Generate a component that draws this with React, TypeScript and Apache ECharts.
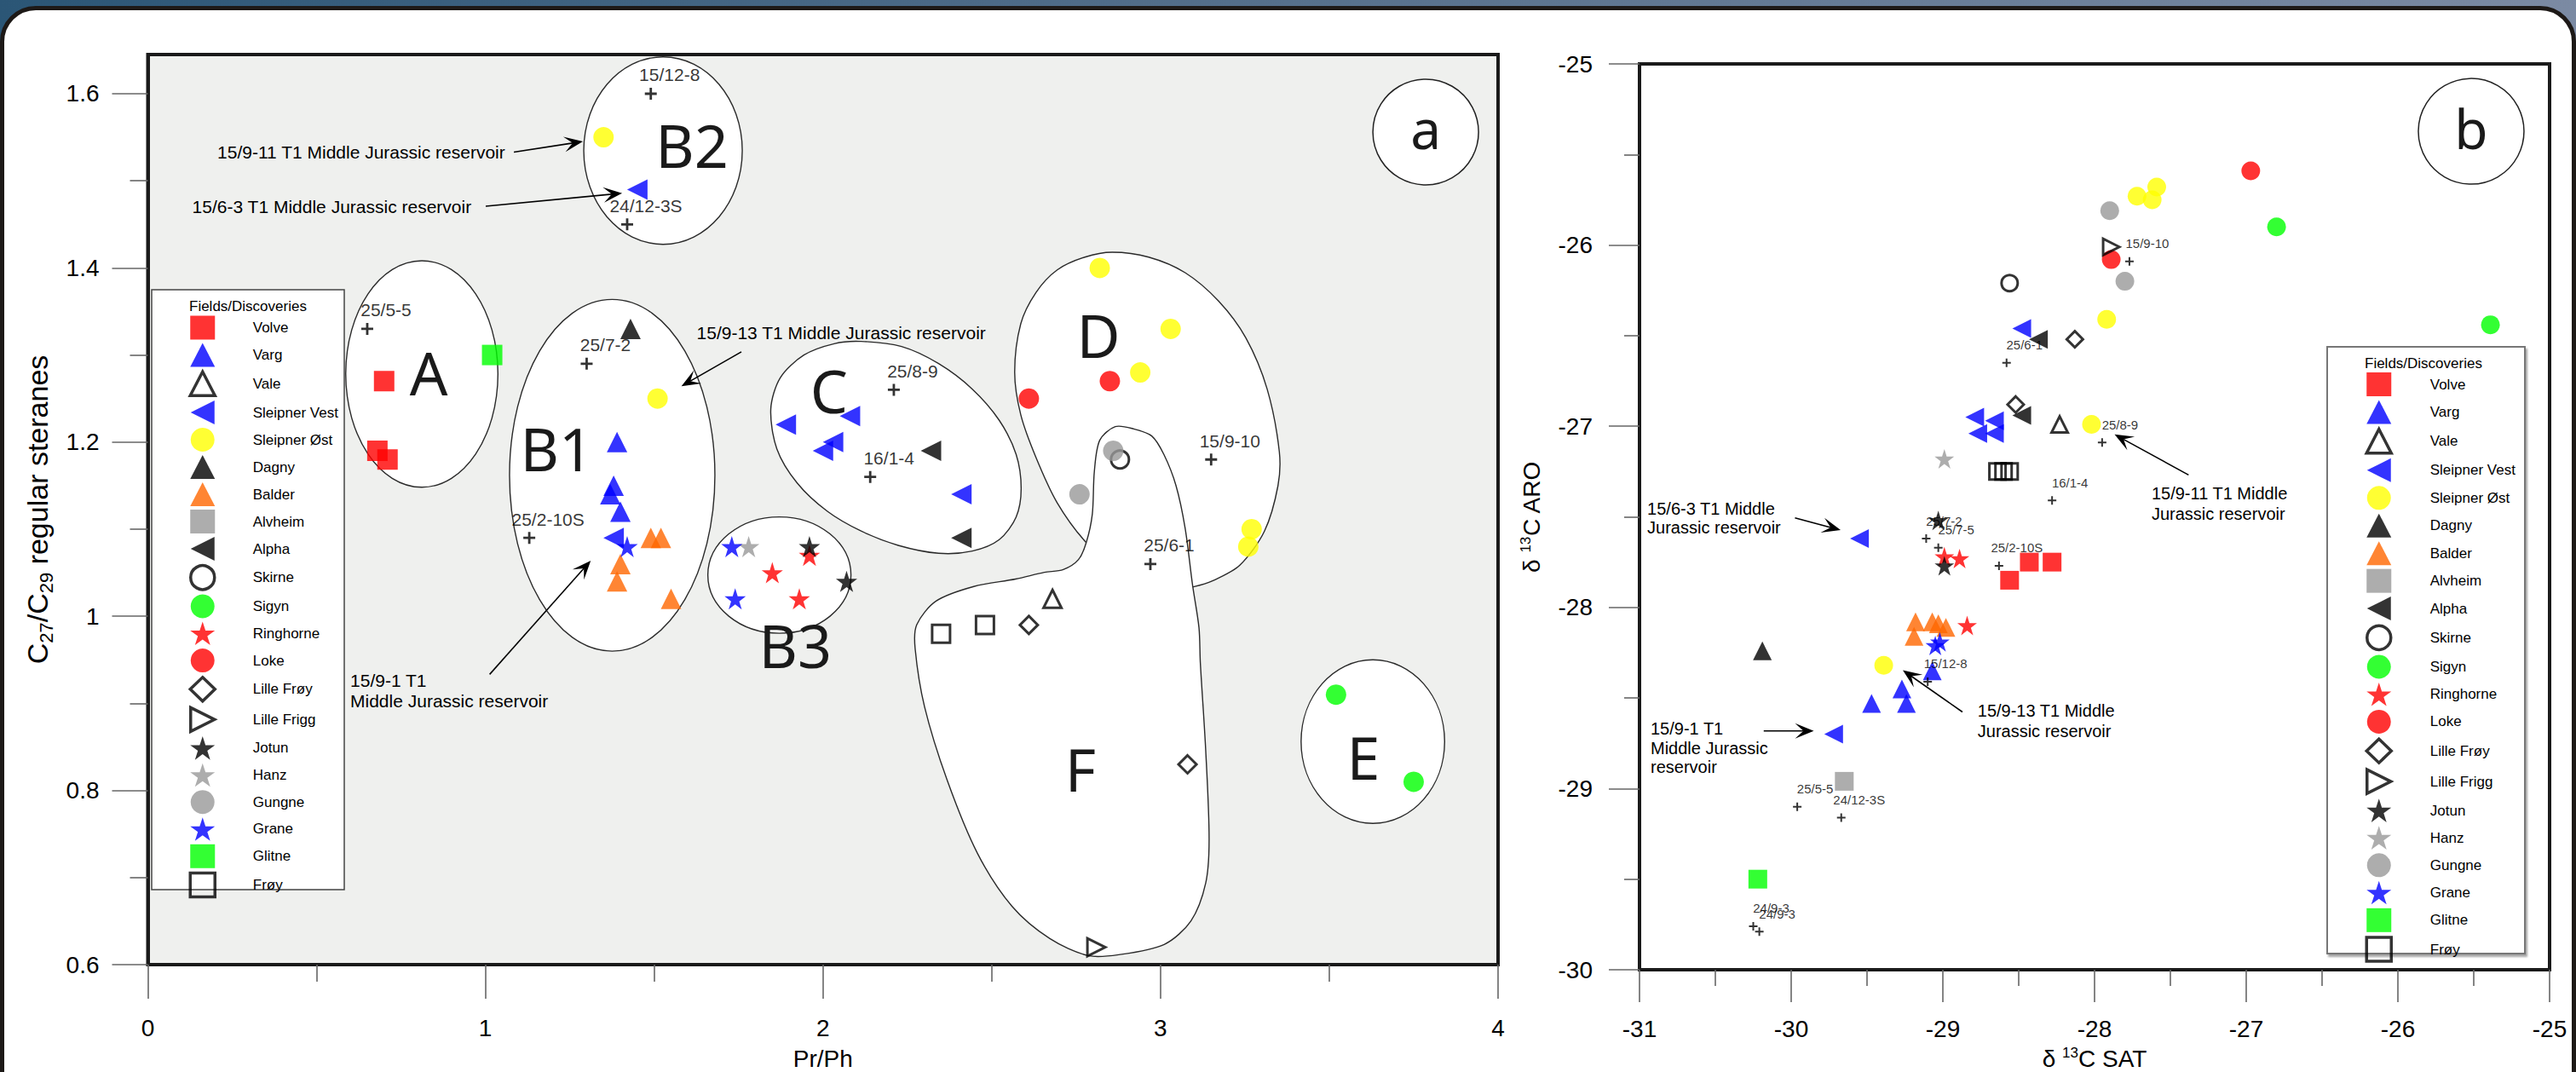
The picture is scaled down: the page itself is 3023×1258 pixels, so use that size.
import React, { useEffect, useRef } from 'react';
import * as echarts from 'echarts';

const W = 3023;
const H = 1258;
const FONT = "'Liberation Sans', Arial, Helvetica, sans-serif";
const HAND = "'Noto Sans', 'DejaVu Sans', sans-serif";

const STAR = 'path://M50,0L61.2,34.5L97.6,34.5L68.2,55.9L79.4,90.5L50,69.1L20.6,90.5L31.8,55.9L2.4,34.5L38.8,34.5Z';
const CROSS = 'path://M4,0H6V4H10V6H6V10H4V6H0V4H4Z';
const LEFT_TRI = 'path://M0,50L100,0L100,100Z';
const RIGHT_TRI = 'path://M100,50L0,0L0,100Z';

// ---------------- legend / categories ----------------
const fieldNames = ['Volve', 'Varg', 'Vale', 'Sleipner Vest', 'Sleipner Øst', 'Dagny', 'Balder', 'Alvheim', 'Alpha', 'Skirne', 'Sigyn', 'Ringhorne', 'Loke', 'Lille Frøy', 'Lille Frigg', 'Jotun', 'Hanz', 'Gungne', 'Grane', 'Glitne', 'Frøy'];

// ---------------- chart a: Pr/Ph vs C27/C29 ----------------
const volveA = [[0.70, 1.27], [0.68, 1.19], [0.71, 1.18]];
const vargA = [[1.39, 1.20], [1.38, 1.15], [1.37, 1.14], [1.40, 1.12]];
const valeA = [[2.68, 1.02]];
const sleipnerVestA = [[1.38, 1.09], [1.45, 1.49], [1.89, 1.22], [2.08, 1.23], [2.03, 1.20], [2.00, 1.19], [2.41, 1.14]];
const sleipnerOstA = [[1.35, 1.55], [1.51, 1.25], [2.82, 1.40], [3.03, 1.33], [2.94, 1.28], [3.27, 1.10], [3.26, 1.08]];
const dagnyA = [[1.43, 1.33]];
const balderA = [[1.49, 1.09], [1.52, 1.09], [1.40, 1.06], [1.39, 1.04], [1.55, 1.02]];
const alvheimA: number[][] = [];
const alphaA = [[2.32, 1.19], [2.41, 1.09]];
const skirneA = [[2.88, 1.18]];
const sigynA = [[3.52, 0.91], [3.75, 0.81]];
const ringhorneA = [[1.85, 1.05], [1.96, 1.07], [1.93, 1.02]];
const lokeA = [[2.85, 1.27], [2.61, 1.25]];
const lilleFroyA = [[2.61, 0.99], [3.08, 0.83]];
const lilleFriggA = [[2.81, 0.62]];
const jotunA = [[1.96, 1.08], [2.07, 1.04]];
const hanzA = [[1.78, 1.08]];
const gungneA = [[2.86, 1.19], [2.76, 1.14]];
const graneA = [[1.42, 1.08], [1.73, 1.08], [1.74, 1.02]];
const glitneA = [[1.02, 1.30]];
const froyA = [[2.35, 0.98], [2.48, 0.99]];

const wellsA: [string, number, number][] = [
  ['25/5-5', 0.65, 1.33], ['15/12-8', 1.49, 1.60], ['24/12-3S', 1.42, 1.45], ['25/7-2', 1.30, 1.29],
  ['25/2-10S', 1.13, 1.09], ['25/8-9', 2.21, 1.26], ['16/1-4', 2.14, 1.16], ['15/9-10', 3.15, 1.18], ['25/6-1', 2.97, 1.06],
];

// ---------------- chart b: d13C SAT vs d13C ARO ----------------
const volveB = [[-28.43, -27.75], [-28.28, -27.75], [-28.56, -27.85]];
const vargB = [[-29.07, -28.35], [-29.27, -28.45], [-29.47, -28.53], [-29.24, -28.53]];
const valeB = [[-28.23, -26.99]];
const sleipnerVestB = [[-28.48, -26.46], [-28.79, -26.95], [-28.66, -26.97], [-28.77, -27.04], [-28.66, -27.04], [-29.55, -27.62], [-29.72, -28.70]];
const sleipnerOstB = [[-27.72, -25.73], [-27.59, -25.68], [-27.62, -25.75], [-27.92, -26.41], [-28.02, -26.99], [-29.39, -28.32]];
const dagnyB = [[-30.19, -28.24]];
const balderB = [[-29.18, -28.08], [-29.07, -28.08], [-29.03, -28.09], [-28.98, -28.11], [-29.19, -28.16]];
const alvheimB = [[-29.65, -28.96]];
const alphaB = [[-28.37, -26.52], [-28.48, -26.94]];
const skirneB = [[-28.56, -26.21]];
const sigynB = [[-26.80, -25.90], [-25.39, -26.44]];
const ringhorneB = [[-28.99, -27.72], [-28.89, -27.73], [-28.84, -28.10]];
const lokeB = [[-26.97, -25.59], [-27.89, -26.08]];
const lilleFroyB = [[-28.13, -26.52], [-28.52, -26.88]];
const lilleFriggB = [[-27.89, -26.01]];
const jotunB = [[-29.03, -27.52], [-28.99, -27.77]];
const hanzB = [[-28.99, -27.18]];
const gungneB = [[-27.90, -25.81], [-27.80, -26.20]];
const graneB = [[-29.05, -28.21], [-29.02, -28.19]];
const glitneB = [[-30.22, -29.50]];
const froyB = [[-28.64, -27.25], [-28.60, -27.25], [-28.56, -27.25]];

const wellsB: [string, number, number][] = [
  ['25/6-1', -28.58, -26.65], ['25/8-9', -27.95, -27.09], ['16/1-4', -28.28, -27.41], ['15/9-10', -27.77, -26.09],
  ['25/7-2', -29.11, -27.62], ['25/7-5', -29.03, -27.67], ['25/2-10S', -28.63, -27.77], ['15/12-8', -29.10, -28.41],
  ['25/5-5', -29.96, -29.10], ['24/12-3S', -29.67, -29.16], ['24/9-3', -30.25, -29.76], ['24/9-3', -30.21, -29.79],
];

// ---------------- annotations (data units) ----------------
const notesA = [
  { text: '15/9-11 T1 Middle Jurassic reservoir', x: 0.2058, y: 1.5325, lh: 24 },
  { text: '15/6-3 T1 Middle Jurassic reservoir', x: 0.1315, y: 1.4699, lh: 24 },
  { text: '15/9-13 T1 Middle Jurassic reservoir', x: 1.6259, y: 1.3254, lh: 24 },
  { text: '15/9-1 T1\nMiddle Jurassic reservoir', x: 0.5996, y: 0.9143, lh: 24.4 },
];
const arrowsA = [
  [1.0844, 1.533, 1.2888, 1.5452],
  [1.001, 1.4708, 1.405, 1.4858],
  [1.7584, 1.3036, 1.5807, 1.2642],
  [1.0126, 0.9333, 1.312, 1.0639],
];
const notesB = [
  { text: '15/6-3 T1 Middle\nJurassic reservoir', x: -30.949, y: -27.509, lh: 22 },
  { text: '15/9-1 T1\nMiddle Jurassic\nreservoir', x: -30.927, y: -28.775, lh: 22.6 },
  { text: '15/9-13 T1 Middle\nJurassic reservoir', x: -28.771, y: -28.627, lh: 23.3 },
  { text: '15/9-11 T1 Middle\nJurassic reservoir', x: -27.624, y: -27.427, lh: 23.7 },
];
const arrowsB = [
  [-29.975, -27.506, -29.674, -27.573],
  [-30.181, -28.682, -29.851, -28.682],
  [-28.871, -28.577, -29.264, -28.347],
  [-27.38, -27.269, -27.868, -27.045],
];

// group outlines in chart a (data units)
const ellipsesA = [
  { cx: 0.8117, cy: 1.2782, rx: 0.2254, ry: 0.130 },
  { cx: 1.3757, cy: 1.1619, rx: 0.3042, ry: 0.2019 },
  { cx: 1.5262, cy: 1.5347, rx: 0.2348, ry: 0.1076 },
  { cx: 1.871, cy: 1.0473, rx: 0.212, ry: 0.0668 },
  { cx: 3.6291, cy: 0.8561, rx: 0.2126, ry: 0.0939 },
];
const blobC = [
  [1.8455, 1.238], [1.8735, 1.2739], [1.9435, 1.2999], [2.0333, 1.313], [2.1131, 1.3156], [2.2328, 1.3097],
  [2.3426, 1.2901], [2.4426, 1.2608], [2.5223, 1.225], [2.5723, 1.1858], [2.5872, 1.1467], [2.5723, 1.114],
  [2.5223, 1.088], [2.4426, 1.0749], [2.3426, 1.0723], [2.2229, 1.0814], [2.1131, 1.0978], [2.0131, 1.1205],
  [1.9235, 1.1531], [1.8634, 1.1923],
];
const blobD = [
  [2.568, 1.2803], [2.586, 1.3358], [2.631, 1.3717], [2.694, 1.3977], [2.776, 1.4124], [2.857, 1.418],
  [2.965, 1.4124], [3.073, 1.3945], [3.172, 1.3619], [3.253, 1.3195], [3.316, 1.2608], [3.352, 1.189],
  [3.348, 1.1499], [3.308, 1.0978], [3.235, 1.0586], [3.154, 1.0406], [3.1, 1.0341], [2.945, 1.0227],
  [2.78, 1.0846], [2.694, 1.1303], [2.631, 1.1825], [2.586, 1.2314],
];
const blobF = [
  [2.78, 1.0846], [2.798, 1.1173], [2.804, 1.1662], [2.82, 1.2021], [2.866, 1.2177], [2.92, 1.2152],
  [2.974, 1.207], [3.01, 1.1858], [3.046, 1.1499], [3.073, 1.101], [3.095, 1.0357], [3.114, 0.9868],
  [3.118, 0.9467], [3.134, 0.8456], [3.144, 0.7444], [3.134, 0.6939], [3.09, 0.6501], [3.011, 0.6232],
  [2.876, 0.6114], [2.785, 0.6104], [2.672, 0.6299], [2.56, 0.667], [2.458, 0.7276], [2.368, 0.8118],
  [2.301, 0.8961], [2.273, 0.9635], [2.278, 0.9904], [2.335, 1.0174], [2.447, 1.0342], [2.571, 1.0427],
  [2.656, 1.0504], [2.712, 1.0536], [2.757, 1.0651],
];
const groupLetters = [
  { t: 'A', x: 0.832, y: 1.28 }, { t: 'B1', x: 1.211, y: 1.1926 }, { t: 'B2', x: 1.612, y: 1.5413 },
  { t: 'B3', x: 1.918, y: 0.9672 }, { t: 'C', x: 2.018, y: 1.259 }, { t: 'D', x: 2.816, y: 1.3228 },
  { t: 'E', x: 3.601, y: 0.8384 }, { t: 'F', x: 2.763, y: 0.8253 },
];

type Sty = { symbol: string; color: string; hollow?: boolean };
const styles: Sty[] = [
  { symbol: 'rect', color: '#ff0000' },
  { symbol: 'triangle', color: '#0000ff' },
  { symbol: 'triangle', color: '#000000', hollow: true },
  { symbol: LEFT_TRI, color: '#0000ff' },
  { symbol: 'circle', color: '#ffff00' },
  { symbol: 'triangle', color: '#000000' },
  { symbol: 'triangle', color: '#ff6600' },
  { symbol: 'rect', color: '#999999' },
  { symbol: LEFT_TRI, color: '#000000' },
  { symbol: 'circle', color: '#000000', hollow: true },
  { symbol: 'circle', color: '#00ff00' },
  { symbol: STAR, color: '#ff0000' },
  { symbol: 'circle', color: '#ff0000' },
  { symbol: 'diamond', color: '#000000', hollow: true },
  { symbol: RIGHT_TRI, color: '#000000', hollow: true },
  { symbol: STAR, color: '#000000' },
  { symbol: STAR, color: '#999999' },
  { symbol: 'circle', color: '#999999' },
  { symbol: STAR, color: '#0000ff' },
  { symbol: 'rect', color: '#00ff00' },
  { symbol: 'rect', color: '#000000', hollow: true },
];
const dataA = [volveA, vargA, valeA, sleipnerVestA, sleipnerOstA, dagnyA, balderA, alvheimA, alphaA, skirneA, sigynA, ringhorneA, lokeA, lilleFroyA, lilleFriggA, jotunA, hanzA, gungneA, graneA, glitneA, froyA];
const dataB = [volveB, vargB, valeB, sleipnerVestB, sleipnerOstB, dagnyB, balderB, alvheimB, alphaB, skirneB, sigynB, ringhorneB, lokeB, lilleFroyB, lilleFriggB, jotunB, hanzB, gungneB, graneB, glitneB, froyB];

function fieldSeries(i: number, grid: number) {
  const st = styles[i];
  const base = grid === 0 ? 24 : 22;
  const size = st.hollow ? base - 3 : st.symbol === STAR ? base + 1 : base;
  return {
    type: 'scatter',
    name: fieldNames[i],
    xAxisIndex: grid,
    yAxisIndex: grid,
    data: grid === 0 ? dataA[i] : dataB[i],
    symbol: st.symbol,
    symbolSize: size,
    itemStyle: st.hollow
      ? { color: 'rgba(255,255,255,0)', borderColor: '#000', borderWidth: 3 }
      : { color: st.color, borderWidth: 0 },
    silent: true,
    z: 3,
  };
}

function wellSeries(grid: number) {
  const wells = grid === 0 ? wellsA : wellsB;
  return {
    type: 'scatter',
    name: grid === 0 ? 'wells a' : 'wells b',
    xAxisIndex: grid,
    yAxisIndex: grid,
    symbol: CROSS,
    symbolSize: grid === 0 ? 14 : 10,
    itemStyle: { color: '#000' },
    data: wells.map((w) => ({ name: w[0], value: [w[1], w[2]] })),
    label: {
      show: true,
      position: 'inside',
      offset: grid === 0 ? [22, -22] : [21, -21],
      formatter: '{b}',
      color: '#000',
      textBorderWidth: 0,
      fontSize: grid === 0 ? 21 : 15,
      fontFamily: FONT,
    },
    silent: true,
    z: 4,
  };
}

function axisCommon(len: number) {
  return {
    axisLine: { show: true, onZero: false, lineStyle: { color: '#1a1a1a', width: 4 } },
    axisTick: { show: true, length: len, lineStyle: { color: '#666', width: 1.6 } },
    minorTick: { show: true, splitNumber: 2, length: len / 2, lineStyle: { color: '#666', width: 1.6 } },
    splitLine: { show: false },
    minorSplitLine: { show: false },
  };
}

function buildOption() {
  const series: any[] = [];
  for (let i = 0; i < fieldNames.length; i++) series.push(fieldSeries(i, 0));
  for (let i = 0; i < fieldNames.length; i++) series.push(fieldSeries(i, 1));
  series.push(wellSeries(0), wellSeries(1));
  const labelStyle = { fontSize: 28, color: '#000', fontFamily: FONT };
  const legendData = fieldNames.map((n, i) =>
    styles[i].hollow
      ? { name: n, itemStyle: { color: 'rgba(255,255,255,0)', borderColor: '#000', borderWidth: 3.5 } }
      : { name: n, itemStyle: { color: styles[i].color, borderWidth: 0 } }
  );
  const legendCommon = {
    data: legendData,
    orient: 'vertical',
    itemWidth: 29,
    itemHeight: 28,
    padding: 0,
    selectedMode: false,
    z: 6,
  };
  const supRich = { sup: { fontSize: 17, verticalAlign: 'top', fontFamily: FONT, color: '#000' } };
  return {
    animation: false,
    grid: [
      { left: 173.5, top: 64, width: 1584.5, height: 1068, show: true, backgroundColor: '#eff0ee', borderColor: '#1a1a1a', borderWidth: 4, outerBoundsMode: 'none', containLabel: false },
      { left: 1924, top: 75, width: 1068, height: 1063, show: true, backgroundColor: '#ffffff', borderColor: '#1a1a1a', borderWidth: 4, outerBoundsMode: 'none', containLabel: false },
    ],
    xAxis: [
      {
        gridIndex: 0, type: 'value', min: 0, max: 4, interval: 1, ...axisCommon(40),
        axisLabel: { ...labelStyle, margin: 60 },
        name: 'Pr/Ph', nameLocation: 'middle', nameGap: 95,
        nameTextStyle: { fontSize: 28, color: '#000', fontFamily: FONT, lineHeight: 30 },
      },
      {
        gridIndex: 1, type: 'value', min: -31, max: -25, interval: 1, ...axisCommon(38),
        axisLabel: { ...labelStyle, margin: 55 },
        name: 'δ {sup|13}C SAT', nameLocation: 'middle', nameGap: 89,
        nameTextStyle: { fontSize: 28, color: '#000', fontFamily: FONT, lineHeight: 30, rich: supRich },
      },
    ],
    yAxis: [
      {
        gridIndex: 0, type: 'value', min: 0.6, max: 1.645, interval: 0.2, ...axisCommon(42),
        axisTick: { show: true, length: 42, lineStyle: { color: '#666', width: 1.6 }, customValues: [0.6, 0.8, 1.0, 1.2, 1.4, 1.6] },
        axisLabel: {
          ...labelStyle, margin: 57,
          customValues: [0.6, 0.8, 1.0, 1.2, 1.4, 1.6],
          formatter: (v: number) => (Math.abs(v * 5 - Math.round(v * 5)) < 1e-6 ? String(Math.round(v * 10) / 10) : ''),
        },
        name: 'C{sub|27}/C{sub|29} regular steranes', nameLocation: 'middle', nameGap: 108, nameRotate: 90,
        nameTextStyle: { fontSize: 34, color: '#000', fontFamily: FONT, lineHeight: 44, rich: { sub: { fontSize: 22, verticalAlign: 'bottom', fontFamily: FONT, color: '#000' } } },
      },
      {
        gridIndex: 1, type: 'value', min: -30, max: -25, interval: 1, ...axisCommon(36),
        axisLabel: { ...labelStyle, margin: 55 },
        name: 'δ {sup|13}C ARO', nameLocation: 'middle', nameGap: 112, nameRotate: 90,
        nameTextStyle: { fontSize: 28, color: '#000', fontFamily: FONT, lineHeight: 30, rich: supRich },
      },
    ],
    legend: [
      { ...legendCommon, left: 221.5, top: 370.5, itemGap: 4, textStyle: { fontSize: 17, color: '#000', fontFamily: FONT, padding: [0, 0, 0, 39.5] } },
      { ...legendCommon, left: 2775.5, top: 437, itemGap: 4.45, textStyle: { fontSize: 17, color: '#000', fontFamily: FONT, padding: [0, 0, 0, 40.5] } },
    ],
    series,
  };
}

function buildGraphics(chart: any) {
  const pA = (x: number, y: number) => chart.convertToPixel({ gridIndex: 0 }, [x, y]) as number[];
  const pB = (x: number, y: number) => chart.convertToPixel({ gridIndex: 1 }, [x, y]) as number[];
  const g: any[] = [];
  const blobStyle = { fill: '#ffffff', stroke: '#2a2a2a', lineWidth: 1.4 };

  // legend boxes + titles
  g.push({ type: 'rect', shape: { x: 178, y: 340, width: 226, height: 704 }, style: { fill: '#fff', stroke: '#444', lineWidth: 1.5 }, z: 1, silent: true });
  g.push({ type: 'rect', shape: { x: 2731, y: 407, width: 232, height: 712 }, style: { fill: '#fff', stroke: '#777', lineWidth: 2, shadowColor: 'rgba(0,0,0,0.35)', shadowOffsetX: 2, shadowOffsetY: 3, shadowBlur: 2 }, z: 1, silent: true });
  const title = (x: number, y: number) => ({ type: 'text', x, y, style: { text: 'Fields/Discoveries', fontSize: 17, fontFamily: FONT, fill: '#000', align: 'left', verticalAlign: 'middle', textAlign: 'left', textVerticalAlign: 'middle' }, z: 6, silent: true });
  g.push(title(222, 359));
  g.push(title(2775, 426));

  // group outlines
  ellipsesA.forEach((e) => {
    const [cx, cy] = pA(e.cx, e.cy);
    const rx = pA(e.cx + e.rx, e.cy)[0] - cx;
    const ry = cy - pA(e.cx, e.cy + e.ry)[1];
    g.push({ type: 'ellipse', shape: { cx, cy, rx, ry }, style: blobStyle, z: 1, silent: true });
  });
  [blobC, blobD, blobF].forEach((pts) => {
    g.push({ type: 'polygon', shape: { points: pts.map((q) => pA(q[0], q[1])), smooth: 0.3 }, style: blobStyle, z: 1, silent: true });
  });
  groupLetters.forEach((l) => {
    const [x, y] = pA(l.x, l.y);
    g.push({ type: 'text', x, y, style: { text: l.t, fontSize: 70, fontFamily: HAND, fill: '#1a1a1a', align: 'center', verticalAlign: 'middle', textAlign: 'center', textVerticalAlign: 'middle' }, z: 2, silent: true });
  });

  // panel letters a / b
  const badge = (p: number[], t: string) => {
    g.push({ type: 'circle', shape: { cx: p[0], cy: p[1], r: 62 }, style: { fill: '#fff', stroke: '#222', lineWidth: 1.5 }, z: 1, silent: true });
    g.push({ type: 'text', x: p[0], y: p[1] - 4, style: { text: t, fontSize: 64, fontFamily: HAND, fill: '#1a1a1a', align: 'center', verticalAlign: 'middle', textAlign: 'center', textVerticalAlign: 'middle' }, z: 2, silent: true });
  };
  badge(pA(3.7857, 1.556), 'a');
  badge(pB(-25.517, -25.372), 'b');

  // annotations
  const addNote = (p: number[], n: any, size: number) => {
    g.push({ type: 'text', x: p[0], y: p[1], style: { text: n.text, fontSize: size, lineHeight: n.lh, fontFamily: FONT, fill: '#000', align: 'left', verticalAlign: 'middle', textAlign: 'left', textVerticalAlign: 'middle' }, z: 5, silent: true });
  };
  notesA.forEach((n) => addNote(pA(n.x, n.y), n, 21));
  notesB.forEach((n) => addNote(pB(n.x, n.y), n, 20));

  const addArrow = (a: number[], b: number[]) => {
    const dx = b[0] - a[0];
    const dy = b[1] - a[1];
    const len = Math.hypot(dx, dy);
    const ux = dx / len, uy = dy / len;
    const nx = -uy, ny = ux;
    const L = 22, Wd = 9;
    const back = [b[0] - ux * L, b[1] - uy * L];
    const notch = [b[0] - ux * L * 0.55, b[1] - uy * L * 0.55];
    g.push({ type: 'line', shape: { x1: a[0], y1: a[1], x2: notch[0], y2: notch[1] }, style: { stroke: '#000', lineWidth: 1.6 }, z: 5, silent: true });
    g.push({ type: 'polygon', shape: { points: [b, [back[0] + nx * Wd, back[1] + ny * Wd], notch, [back[0] - nx * Wd, back[1] - ny * Wd]] }, style: { fill: '#000' }, z: 5, silent: true });
  };
  arrowsA.forEach((r) => addArrow(pA(r[0], r[1]), pA(r[2], r[3])));
  arrowsB.forEach((r) => addArrow(pB(r[0], r[1]), pB(r[2], r[3])));
  return g;
}

export default function App() {
  const ref = useRef<HTMLDivElement>(null);
  useEffect(() => {
    const el = ref.current;
    if (!el) return;
    const chart = echarts.init(el, null, { renderer: 'svg' });
    chart.setOption(buildOption() as any);
    chart.setOption({ graphic: { elements: buildGraphics(chart) } } as any);
    return () => chart.dispose();
  }, []);
  return (
    <div style={{ position: 'fixed', left: 0, top: 0, width: W, height: H, overflow: 'hidden', background: 'linear-gradient(90deg, #2b5676 0%, #56708c 50%, #7b8aa3 100%)' }}>
      <div style={{ position: 'absolute', left: 0, top: 7, width: W, height: H + 40, background: '#fff', border: '5px solid #1d1917', borderRadius: '42px 42px 0 0', boxSizing: 'border-box' }} />
      <div ref={ref} style={{ position: 'absolute', left: 0, top: 0, width: W, height: H }} />
    </div>
  );
}
